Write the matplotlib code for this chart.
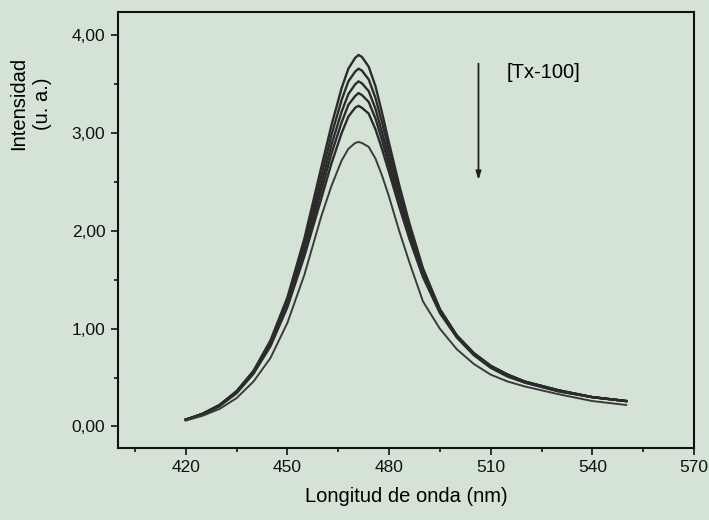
import matplotlib
matplotlib.use("Agg")
import matplotlib.pyplot as plt
from matplotlib.ticker import MultipleLocator

plt.rcParams['font.family'] = ['Liberation Sans', 'DejaVu Sans']

# emission spectra, wavelength in nm
wl = [420, 425, 430, 435, 440, 445, 450, 455, 460, 463, 466, 468, 470, 471, 472, 474,
      476, 478, 480, 483, 486, 490, 495, 500, 505, 510, 515, 520, 530, 540, 550]

s1 = [0.07, 0.13, 0.22, 0.36, 0.57, 0.88, 1.32, 1.92, 2.65, 3.08, 3.46, 3.66, 3.77, 3.80, 3.78, 3.68,
      3.48, 3.20, 2.90, 2.47, 2.08, 1.62, 1.20, 0.93, 0.75, 0.62, 0.53, 0.46, 0.37, 0.30, 0.26]
s2 = [0.07, 0.13, 0.22, 0.36, 0.56, 0.86, 1.29, 1.87, 2.56, 2.98, 3.34, 3.53, 3.63, 3.66, 3.64, 3.55,
      3.36, 3.10, 2.82, 2.41, 2.04, 1.60, 1.20, 0.93, 0.75, 0.62, 0.53, 0.46, 0.37, 0.30, 0.26]
s3 = [0.07, 0.13, 0.22, 0.35, 0.55, 0.85, 1.27, 1.83, 2.48, 2.88, 3.22, 3.40, 3.50, 3.53, 3.51, 3.43,
      3.25, 3.00, 2.74, 2.35, 2.00, 1.58, 1.19, 0.93, 0.75, 0.62, 0.53, 0.46, 0.37, 0.30, 0.26]
s4 = [0.07, 0.12, 0.21, 0.35, 0.55, 0.84, 1.25, 1.79, 2.41, 2.79, 3.11, 3.29, 3.38, 3.41, 3.39, 3.32,
      3.15, 2.92, 2.67, 2.30, 1.96, 1.56, 1.18, 0.92, 0.74, 0.61, 0.52, 0.45, 0.36, 0.30, 0.26]
s5 = [0.07, 0.12, 0.21, 0.34, 0.54, 0.82, 1.22, 1.74, 2.33, 2.69, 3.00, 3.17, 3.26, 3.28, 3.26, 3.20,
      3.04, 2.83, 2.60, 2.25, 1.92, 1.53, 1.16, 0.91, 0.73, 0.60, 0.51, 0.45, 0.36, 0.30, 0.26]
s6 = [0.06, 0.11, 0.18, 0.29, 0.46, 0.70, 1.06, 1.55, 2.15, 2.46, 2.72, 2.84, 2.90, 2.91, 2.90, 2.86,
      2.74, 2.56, 2.35, 2.00, 1.68, 1.28, 1.00, 0.79, 0.64, 0.53, 0.46, 0.41, 0.33, 0.26, 0.22]

xticks = [420, 450, 480, 510, 540, 570]
yticks = [0, 1, 2, 3, 4]
ytick_labels = ['0,00', '1,00', '2,00', '3,00', '4,00']

bg = '#d5e3d7'
fig = plt.figure(figsize=(7.09, 5.2), dpi=100, facecolor=bg)
ax = fig.add_axes([0.1664, 0.1385, 0.8124, 0.8385], facecolor=bg)

for s in [s1, s2, s3, s4, s5]:
    ax.plot(wl, s, color='#2b2b2b', lw=1.7, solid_joinstyle='round')
ax.plot(wl, s6, color='#3a3a3a', lw=1.4, solid_joinstyle='round')

ax.set_xlim(400, 570)
ax.set_ylim(-0.22, 4.24)
ax.set_xticks(xticks)
ax.set_yticks(yticks)
ax.set_yticklabels(ytick_labels)
ax.xaxis.set_minor_locator(MultipleLocator(15))
ax.yaxis.set_minor_locator(MultipleLocator(0.5))
ax.tick_params(which='both', direction='out', width=1.2, colors='#111111',
               labelsize=12.5, top=False, right=False)
ax.tick_params(which='major', length=5, pad=4)
ax.tick_params(which='minor', length=3)
for sp in ax.spines.values():
    sp.set_linewidth(1.5)
    sp.set_color('#111111')

ax.set_xlabel('Longitud de onda (nm)', fontsize=14.5, labelpad=8)
ax.text(-0.152, 0.79, 'Intensidad\n(u. a.)', transform=ax.transAxes,
        rotation=90, ha='center', va='center', fontsize=14.5, linespacing=1.3)

ax.annotate('', xy=(506.4, 2.49), xytext=(506.4, 3.74),
            arrowprops=dict(arrowstyle='-|>,head_length=0.5,head_width=0.15',
                            color='#222222', lw=1.3))
ax.text(514.7, 3.62, '[Tx-100]', fontsize=14.5, ha='left', va='center')

fig.savefig('out.png', dpi=100, facecolor=bg)
